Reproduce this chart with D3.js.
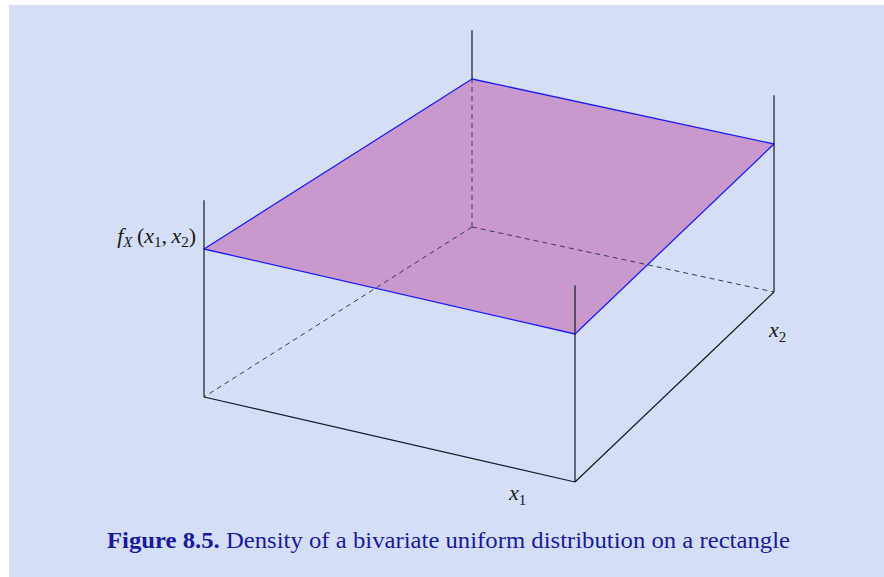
<!DOCTYPE html>
<html>
<head>
<meta charset="utf-8">
<script src="https://cdn.jsdelivr.net/npm/d3@7"></script>
<style>
  html, body { margin: 0; padding: 0; background: #ffffff; }
  svg { display: block; }
</style>
</head>
<body>
<svg id="chart" width="884" height="577"></svg>
<script>
// Support of the uniform density: a1 <= x1 <= b1, a2 <= x2 <= b2
const x1Range = [0, 1];
const x2Range = [0, 1];
// Constant density height over the rectangle, and how far the corner posts rise
const densityValue = [1];
const postHeight = [1.33];
const labels = { x1: "x", x2: "x", f: "f" };
const captionBold = "Figure 8.5.";
const captionText = " Density of a bivariate uniform distribution on a rectangle";

const svg = d3.select("#chart");
const W = 884, H = 577;

// panel background
svg.append("rect")
  .attr("x", 9).attr("y", 5).attr("width", W - 9).attr("height", H - 5)
  .attr("fill", "#d4dff7");

// normalised coordinates along each axis
const u = d3.scaleLinear().domain(x1Range).range([0, 1]);
const v = d3.scaleLinear().domain(x2Range).range([0, 1]);
const zScale = d3.scaleLinear().domain([0, densityValue[0]]).range([0, 148]);

// screen positions of the base quadrilateral's corners (front-left, front-right, back-right, back-left)
const frontX = d3.scaleLinear().domain([0, 1]).range([204, 575]);
const frontY = d3.scaleLinear().domain([0, 1]).range([397, 482]);
const backX  = d3.scaleLinear().domain([0, 1]).range([472, 774]);
const backY  = d3.scaleLinear().domain([0, 1]).range([227, 292]);

function project(x1, x2, z) {
  const a = u(x1), b = v(x2);
  const fx = frontX(a), fy = frontY(a), bx = backX(a), by = backY(a);
  const px = fx + (bx - fx) * b;
  const py = fy + (by - fy) * b;
  return [px, py - zScale(z)];
}

const line = d3.line();
const [a1, b1] = x1Range, [a2, b2] = x2Range;
const h = densityValue[0], zPost = postHeight[0];

// hidden edges (behind the surface): base edges from the back corner and its post
const dashed = [
  [project(a1, b2, 0), project(a1, a2, 0)],
  [project(a1, b2, 0), project(b1, b2, 0)],
  [project(a1, b2, 0), project(a1, b2, h)]
];

// density surface
const surface = [project(a1, a2, h), project(b1, a2, h), project(b1, b2, h), project(a1, b2, h)];
svg.append("path")
  .attr("d", line(surface) + "Z")
  .attr("fill", "#c998cd")
  .attr("stroke", "#1c1cff")
  .attr("stroke-width", 1.3)
  .attr("stroke-linejoin", "round");

svg.selectAll("path.hidden").data(dashed).join("path")
  .attr("class", "hidden")
  .attr("d", d => line(d))
  .attr("fill", "none")
  .attr("stroke", "#3c3c4a")
  .attr("stroke-width", 1)
  .attr("stroke-dasharray", "5,4");

// visible frame: front base edges and corner posts
const solid = [
  [project(a1, a2, 0), project(b1, a2, 0)],
  [project(b1, a2, 0), project(b1, b2, 0)],
  [project(a1, a2, 0), project(a1, a2, zPost)],
  [project(b1, a2, 0), project(b1, a2, zPost)],
  [project(b1, b2, 0), project(b1, b2, zPost)],
  [project(a1, b2, h), project(a1, b2, zPost)]
];
svg.selectAll("path.frame").data(solid).join("path")
  .attr("class", "frame")
  .attr("d", d => line(d))
  .attr("fill", "none")
  .attr("stroke", "#1a1a22")
  .attr("stroke-width", 1.2);

// axis labels
const mathFont = "'Liberation Serif', 'DejaVu Serif', serif";
function subLabel(g, base, sub, x, y, anchor) {
  const t = g.append("text")
    .attr("x", x).attr("y", y)
    .attr("text-anchor", anchor)
    .attr("font-family", mathFont)
    .attr("font-size", 22)
    .attr("fill", "#1a1a1a");
  t.append("tspan").attr("font-style", "italic").text(base);
  t.append("tspan").attr("font-size", 15).attr("dy", 5).text(sub);
  return t;
}
subLabel(svg, labels.x1, "1", 509, 500, "start");
subLabel(svg, labels.x2, "2", 769, 337, "start");

// density label f_X(x1, x2)
const fLab = svg.append("text")
  .attr("x", 196).attr("y", 243)
  .attr("text-anchor", "end")
  .attr("font-family", mathFont)
  .attr("font-size", 22)
  .attr("fill", "#1a1a1a");
fLab.append("tspan").attr("font-style", "italic").text(labels.f);
fLab.append("tspan").attr("font-style", "italic").attr("font-size", 15).attr("dy", 4).text("X");
fLab.append("tspan").attr("dy", -4).text("\u2009(");
fLab.append("tspan").attr("font-style", "italic").text(labels.x1);
fLab.append("tspan").attr("font-size", 15).attr("dy", 4).text("1");
fLab.append("tspan").attr("dy", -4).text(",\u2009");
fLab.append("tspan").attr("font-style", "italic").text(labels.x2);
fLab.append("tspan").attr("font-size", 15).attr("dy", 4).text("2");
fLab.append("tspan").attr("dy", -4).text(")");

// caption
const cap = svg.append("text")
  .attr("x", 107).attr("y", 548)
  .attr("text-anchor", "start")
  .attr("font-family", mathFont)
  .attr("font-size", 24)
  .attr("textLength", 683)
  .attr("lengthAdjust", "spacingAndGlyphs")
  .attr("fill", "#1a1a9c");
cap.append("tspan").attr("font-weight", "bold").text(captionBold);
cap.append("tspan").text(captionText);
</script>
</body>
</html>
